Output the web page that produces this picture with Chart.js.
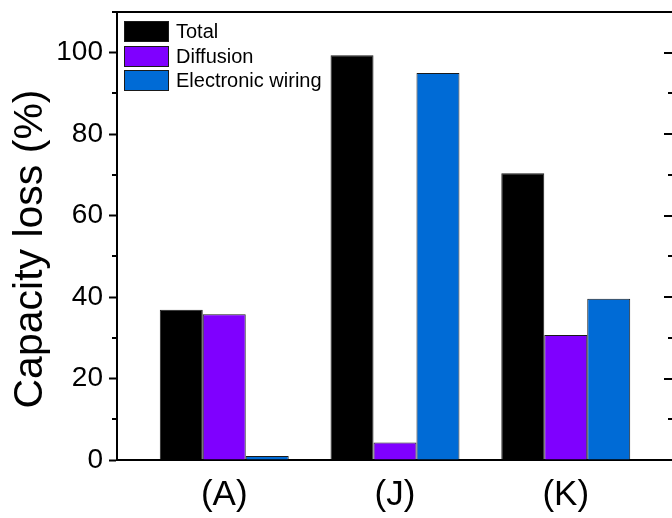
<!DOCTYPE html>
<html><head><meta charset="utf-8">
<script src="https://cdn.jsdelivr.net/npm/chart.js@4"></script>
<style>
html,body{margin:0;padding:0;background:#fff;overflow:hidden}
#wrap{position:relative;width:672px;height:518px;overflow:hidden;background:#fff}
#wrap canvas{position:absolute;left:0;top:0}
</style></head>
<body><div id="wrap"><canvas id="c" width="690" height="518" style="width:690px;height:518px"></canvas></div>
<script>
const categories = ['(A)', '(J)', '(K)'];
const seriesNames = ['Total', 'Diffusion', 'Electronic wiring'];
const totalLoss = [36.9, 99.4, 70.4];
const diffusionLoss = [35.8, 4.3, 30.7];
const wiringLoss = [1.0, 95.0, 39.6];
const yTicks = [0, 20, 40, 60, 80, 100];
const yMinorTicks = [10, 30, 50, 70, 90, 110];
const yTitle = 'Capacity loss (%)';
const colors = ['#000000', '#7F00FF', '#006BD6'];
const FONT = "'Liberation Sans', Arial, Helvetica, sans-serif";

const seriesValues = [totalLoss, diffusionLoss, wiringLoss];
const datasets = seriesNames.map((name, k) => ({
  label: name,
  data: seriesValues[k].map((v, i) => ({x: i + 1, y: v})),
  backgroundColor: colors[k],
  borderColor: '#1a1a1a',
  borderWidth: 1
}));

const framePlugin = {
  id: 'frame',
  afterDraw(chart) {
    const ctx = chart.ctx;
    const a = chart.chartArea;
    const y = chart.scales.y;
    ctx.save();
    ctx.strokeStyle = '#000';
    ctx.lineWidth = 2;
    ctx.beginPath();
    ctx.moveTo(a.left - 1, a.top);
    ctx.lineTo(a.right + 1, a.top);
    ctx.moveTo(a.right, a.top);
    ctx.lineTo(a.right, a.bottom);
    yMinorTicks.forEach(v => {
      const p = Math.round(y.getPixelForValue(v));
      ctx.moveTo(a.left - 5, p);
      ctx.lineTo(a.left, p);
    });
    yTicks.forEach(v => {
      const p = Math.round(y.getPixelForValue(v));
      ctx.moveTo(a.right - 9, p);
      ctx.lineTo(a.right, p);
    });
    yMinorTicks.forEach(v => {
      const p = Math.round(y.getPixelForValue(v));
      ctx.moveTo(a.right - 5, p);
      ctx.lineTo(a.right, p);
    });
    ctx.stroke();

    // y axis title
    ctx.save();
    ctx.translate(31, (a.top + a.bottom) / 2 + 13);
    ctx.rotate(-Math.PI / 2);
    ctx.font = '41px ' + FONT;
    ctx.fillStyle = '#000';
    ctx.textAlign = 'center';
    ctx.textBaseline = 'middle';
    ctx.fillText(yTitle, 0, 0);
    ctx.restore();

    // legend
    const bx = a.left + 7, by = a.top + 9, bw = 45, bh = 21, step = 24.5;
    ctx.font = '20px ' + FONT;
    ctx.textBaseline = 'middle';
    ctx.textAlign = 'left';
    chart.data.datasets.forEach((ds, k) => {
      const top = Math.round(by + k * step);
      ctx.fillStyle = ds.backgroundColor;
      ctx.fillRect(bx, top, bw, bh);
      ctx.lineWidth = 1;
      ctx.strokeStyle = '#1a1a1a';
      ctx.strokeRect(bx + 0.5, top + 0.5, bw - 1, bh - 1);
      ctx.fillStyle = '#000';
      ctx.fillText(ds.label, bx + bw + 7, top + bh / 2 + 1);
    });
    ctx.restore();
  }
};

new Chart(document.getElementById('c'), {
  type: 'bar',
  data: {datasets},
  options: {
    responsive: false,
    animation: false,
    layout: {padding: {left: 0, top: 12, right: 17, bottom: 0}},
    plugins: {legend: {display: false}, tooltip: {enabled: false}},
    datasets: {bar: {categoryPercentage: 0.755, barPercentage: 1, borderSkipped: 'start'}},
    scales: {
      x: {
        type: 'linear', min: 0.372, max: 3.628, bounds: 'data', offset: false,
        afterBuildTicks: s => { s.ticks = categories.map((c, i) => ({value: i + 1})); },
        ticks: {
          callback: v => categories[Math.round(v) - 1] ?? '',
          font: {family: FONT, size: 35}, color: '#000', padding: 14,
          maxRotation: 0, autoSkip: false
        },
        grid: {display: true, drawOnChartArea: false, drawTicks: false},
        border: {display: true, color: '#000', width: 2},
        afterFit: s => { s.height = 58; s.paddingLeft = 0; s.paddingRight = 0; }
      },
      y: {
        min: 0, max: 110, bounds: 'data',
        afterBuildTicks: s => { s.ticks = yTicks.map(v => ({value: v})); },
        ticks: {font: {family: FONT, size: 28}, color: '#000', padding: 6},
        grid: {drawOnChartArea: false, drawTicks: true, tickLength: 8, tickWidth: 2, tickColor: '#000'},
        border: {display: true, color: '#000', width: 2},
        afterFit: s => { s.width = 117; s.paddingTop = 0; s.paddingBottom = 0; }
      }
    }
  },
  plugins: [framePlugin]
});
</script>
</body></html>
